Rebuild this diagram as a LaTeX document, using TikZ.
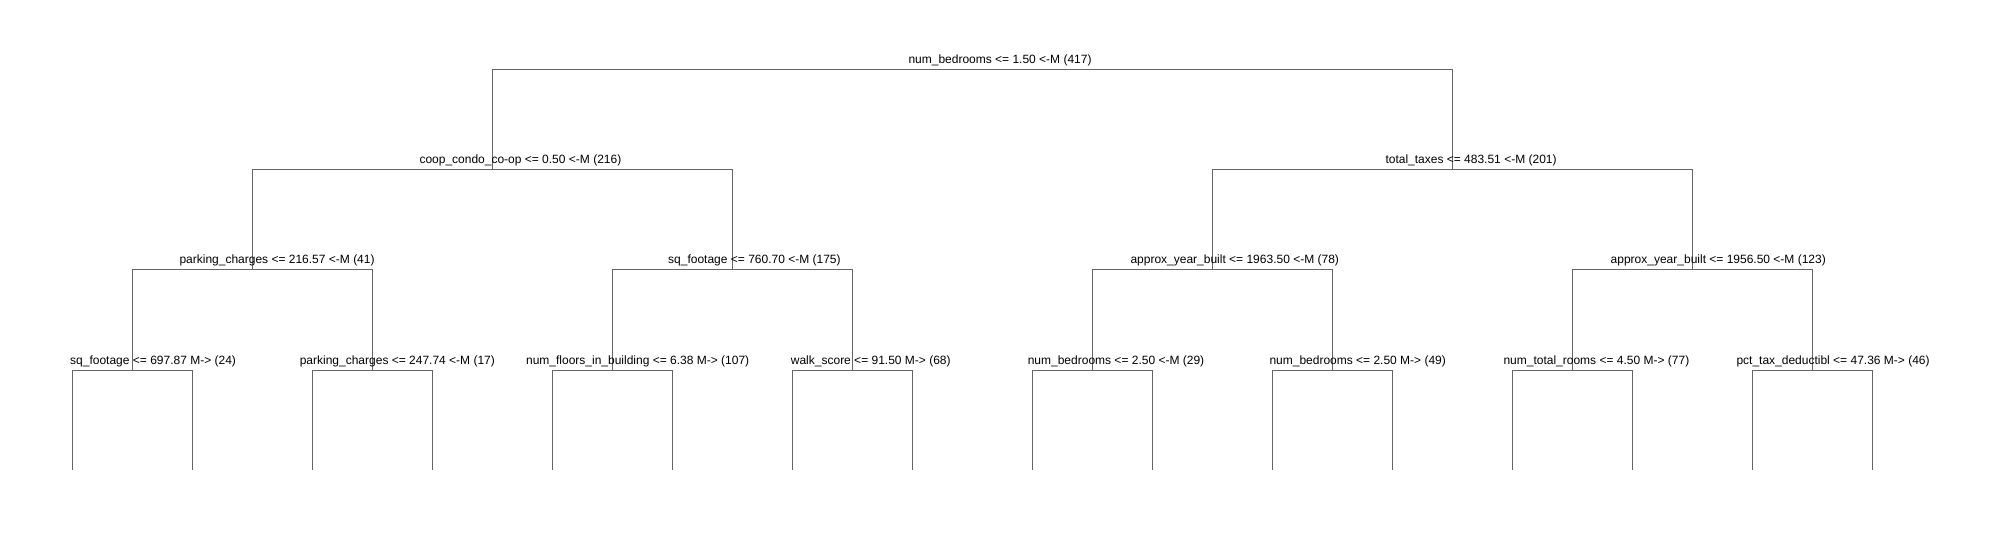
\documentclass[tikz,border=0pt]{standalone}
\usepackage{fontspec}
\setmainfont{Liberation Sans}
\definecolor{edgegray}{RGB}{102,102,102}
\begin{document}
\begin{tikzpicture}[x=1pt,y=-1pt,
  edge/.style={draw=edgegray, line width=1pt},
  lab/.style={anchor=base west, inner sep=0pt, font=\fontsize{12}{14}\selectfont, text=black}]
\useasboundingbox (0,0) rectangle (1998,540);
% split points
\coordinate (n) at (972.3,70);
\coordinate (nL) at (492.3,170);
\coordinate (nR) at (1452.3,170);
\coordinate (nLL) at (252.3,270);
\coordinate (nLR) at (732.3,270);
\coordinate (nRL) at (1212.3,270);
\coordinate (nRR) at (1692.3,270);
\coordinate (a1) at (132.3,370);
\coordinate (a2) at (372.3,370);
\coordinate (a3) at (612.3,370);
\coordinate (a4) at (852.3,370);
\coordinate (a5) at (1092.3,370);
\coordinate (a6) at (1332.3,370);
\coordinate (a7) at (1572.3,370);
\coordinate (a8) at (1812.3,370);
% leaf ends
\coordinate (f1) at (72.3,470);   \coordinate (f2) at (192.3,470);
\coordinate (f3) at (312.3,470);  \coordinate (f4) at (432.3,470);
\coordinate (f5) at (552.3,470);  \coordinate (f6) at (672.3,470);
\coordinate (f7) at (792.3,470);  \coordinate (f8) at (912.3,470);
\coordinate (f9) at (1032.3,470); \coordinate (f10) at (1152.3,470);
\coordinate (f11) at (1272.3,470);\coordinate (f12) at (1392.3,470);
\coordinate (f13) at (1512.3,470);\coordinate (f14) at (1632.3,470);
\coordinate (f15) at (1752.3,470);\coordinate (f16) at (1872.3,470);
% connectors
\draw[edge] (n) -| (nL); \draw[edge] (n) -| (nR);
\draw[edge] (nL) -| (nLL); \draw[edge] (nL) -| (nLR);
\draw[edge] (nR) -| (nRL); \draw[edge] (nR) -| (nRR);
\draw[edge] (nLL) -| (a1); \draw[edge] (nLL) -| (a2);
\draw[edge] (nLR) -| (a3); \draw[edge] (nLR) -| (a4);
\draw[edge] (nRL) -| (a5); \draw[edge] (nRL) -| (a6);
\draw[edge] (nRR) -| (a7); \draw[edge] (nRR) -| (a8);
\draw[edge] (a1) -| (f1); \draw[edge] (a1) -| (f2);
\draw[edge] (a2) -| (f3); \draw[edge] (a2) -| (f4);
\draw[edge] (a3) -| (f5); \draw[edge] (a3) -| (f6);
\draw[edge] (a4) -| (f7); \draw[edge] (a4) -| (f8);
\draw[edge] (a5) -| (f9); \draw[edge] (a5) -| (f10);
\draw[edge] (a6) -| (f11); \draw[edge] (a6) -| (f12);
\draw[edge] (a7) -| (f13); \draw[edge] (a7) -| (f14);
\draw[edge] (a8) -| (f15); \draw[edge] (a8) -| (f16);
% labels
\node[lab] (tn) at ([xshift=-64pt,yshift=6pt]n) {num\_bedrooms <= 1.50 <-M (417)};
\node[lab] (tnL) at ([xshift=-73pt,yshift=6pt]nL) {coop\_condo\_co-op <= 0.50 <-M (216)};
\node[lab] (tnR) at ([xshift=-67pt,yshift=6pt]nR) {total\_taxes <= 483.51 <-M (201)};
\node[lab] (tnLL) at ([xshift=-73pt,yshift=6pt]nLL) {parking\_charges <= 216.57 <-M (41)};
\node[lab] (tnLR) at ([xshift=-64.3pt,yshift=6pt]nLR) {sq\_footage <= 760.70 <-M (175)};
\node[lab] (tnRL) at ([xshift=-82pt,yshift=6pt]nRL) {approx\_year\_built <= 1963.50 <-M (78)};
\node[lab] (tnRR) at ([xshift=-81.8pt,yshift=6pt]nRR) {approx\_year\_built <= 1956.50 <-M (123)};
\node[lab] (ta1) at ([xshift=-62.3pt,yshift=6pt]a1) {sq\_footage <= 697.87 M-> (24)};
\node[lab] (ta2) at ([xshift=-72.7pt,yshift=6pt]a2) {parking\_charges <= 247.74 <-M (17)};
\node[lab] (ta3) at ([xshift=-86.4pt,yshift=6pt]a3) {num\_floors\_in\_building <= 6.38 M-> (107)};
\node[lab] (ta4) at ([xshift=-61.6pt,yshift=6pt]a4) {walk\_score <= 91.50 M-> (68)};
\node[lab] (ta5) at ([xshift=-64.7pt,yshift=6pt]a5) {num\_bedrooms <= 2.50 <-M (29)};
\node[lab] (ta6) at ([xshift=-63pt,yshift=6pt]a6) {num\_bedrooms <= 2.50 M-> (49)};
\node[lab] (ta7) at ([xshift=-69pt,yshift=6pt]a7) {num\_total\_rooms <= 4.50 M-> (77)};
\node[lab] (ta8) at ([xshift=-76pt,yshift=6pt]a8) {pct\_tax\_deductibl <= 47.36 M-> (46)};
\end{tikzpicture}
\end{document}
